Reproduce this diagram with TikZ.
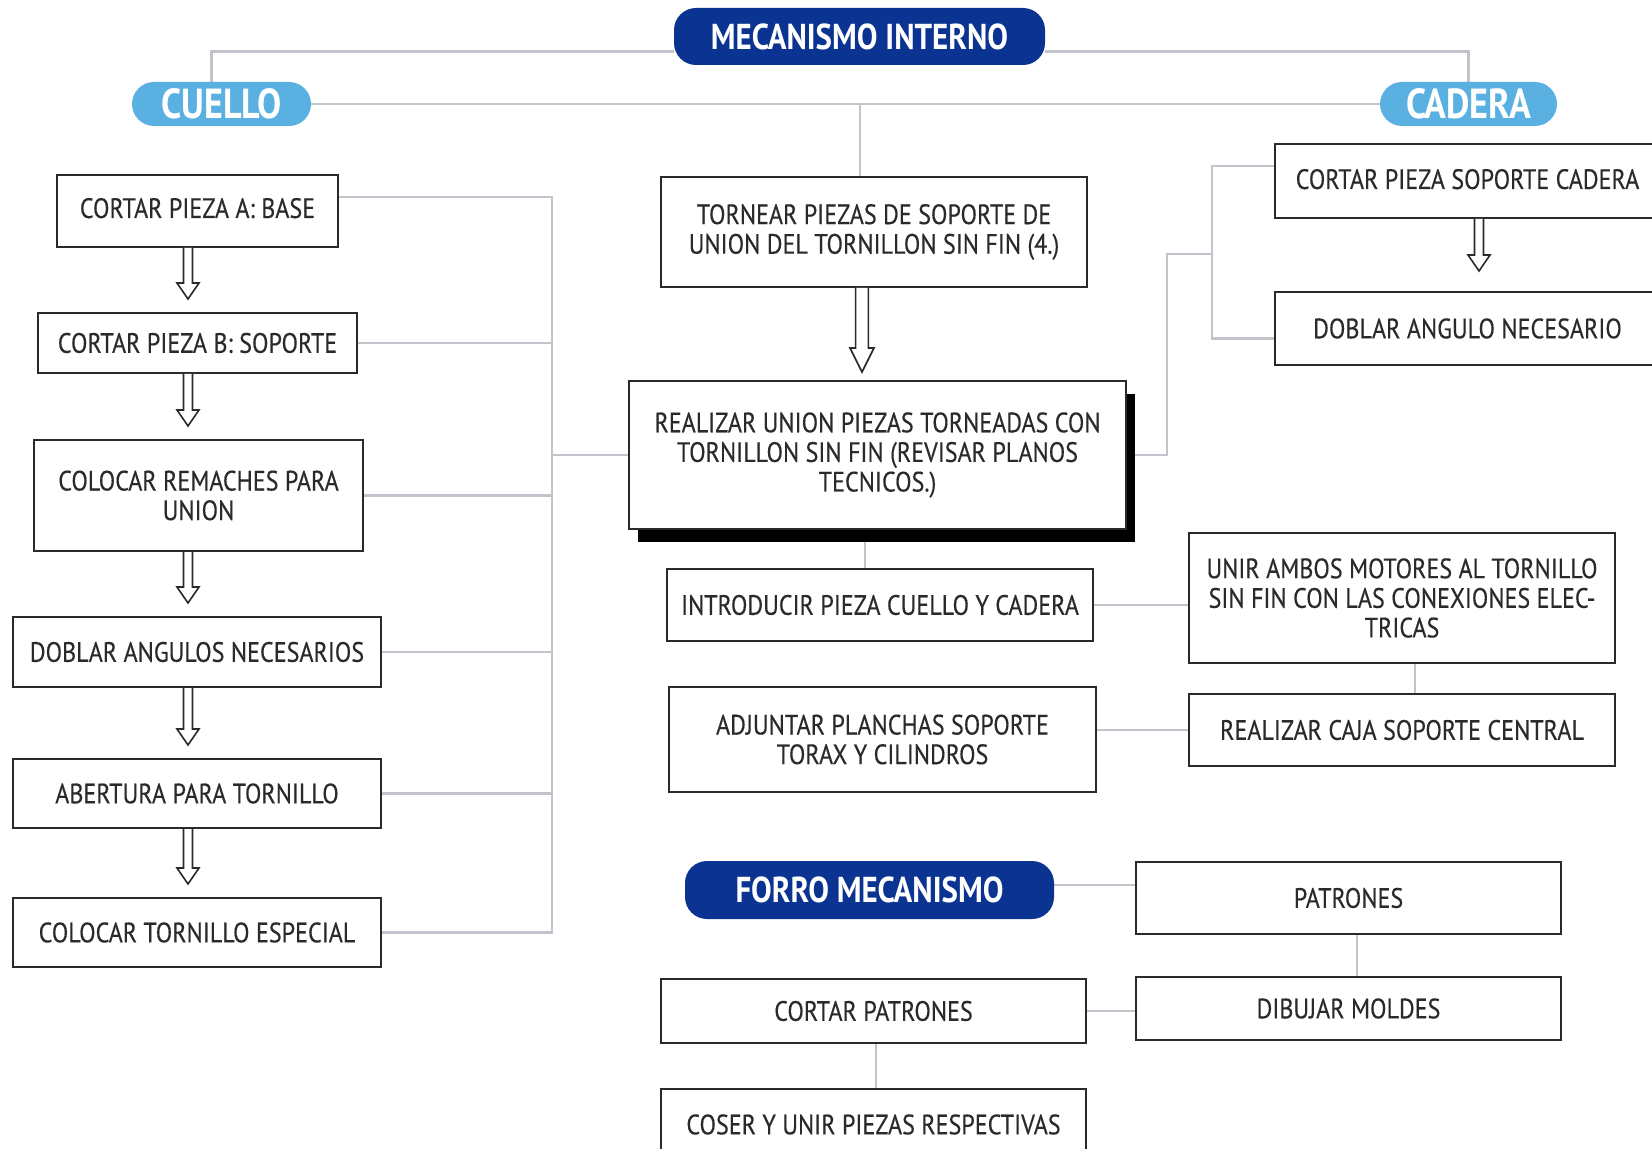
\documentclass[tikz,border=0pt]{standalone}
\usepackage{fontspec}
\setmainfont{PT Sans}[FakeStretch=0.86]
\newfontfamily\boxfont{PT Sans}[FakeStretch=0.86, FakeBold=0.3]
\usetikzlibrary{calc,shadows}
\pgfdeclarelayer{background}
\pgfsetlayers{background,main}
\definecolor{navy}{HTML}{0B3391}
\definecolor{sky}{HTML}{5BB0E2}
\definecolor{linkgray}{HTML}{C3C3CB}
\definecolor{ink}{HTML}{2A2A2A}
% box given by its corners (pixel grid, y downwards)
\newcommand\boxat[7]{\node[#1, minimum width={(#5-#3)*0.5pt}, minimum height={(#6-#4)*0.5pt}] (#2) at ({(#3+#5)/2},{(#4+#6)/2}) {#7};}
% hollow block arrow: from, to, x, shaft half width, head half width, head length, gap
\newcommand\harrow[7]{%
  \draw[hollow] let \p1=(#1.south), \p2=(#2.north), \p3=(#3,0) in
    (\x3-#4,\y1) -- (\x3-#4,\y2+#7+#6) -- (\x3-#5,\y2+#7+#6) -- (\x3,\y2+#7)
    -- (\x3+#5,\y2+#7+#6) -- (\x3+#4,\y2+#7+#6) -- (\x3+#4,\y1);}
\begin{document}
\begin{tikzpicture}[x=0.5pt,y=-0.5pt,
  box/.style={draw=ink, line width=1pt, fill=white, inner sep=0pt, align=center,
    text=ink, font=\boxfont\fontsize{14}{14.8}\selectfont},
  bigbox/.style={box, drop shadow={shadow xshift=4.5pt, shadow yshift=-6.5pt, fill=black, opacity=1}},
  link/.style={draw=linkgray, line width=1.3pt},
  hollow/.style={draw=ink, line width=0.8pt, fill=white, line join=miter},
  darkpill/.style={fill=navy, rounded corners=11pt, text=white, inner sep=0pt,
    font=\bfseries\fontsize{18}{18}\selectfont},
  lightpill/.style={fill=sky, rounded corners=11pt, text=white, inner sep=0pt,
    font=\bfseries\fontsize{21}{21}\selectfont},
]
\useasboundingbox (0,0) rectangle (1652,1149);
\clip (0,0) rectangle (1652,1149);

% headings
\boxat{darkpill}{mi}{674}{8}{1045}{65}{MECANISMO INTERNO}
\boxat{lightpill}{cu}{132}{82}{311}{126}{CUELLO}
\boxat{lightpill}{ca}{1380}{82}{1557}{126}{CADERA}
\boxat{darkpill}{fo}{685}{861}{1054}{919}{FORRO MECANISMO}

% neck column
\boxat{box}{a1}{57}{175}{338}{247}{\raisebox{3pt}{CORTAR PIEZA A: BASE}}
\boxat{box}{a2}{38}{313}{357}{373}{CORTAR PIEZA B: SOPORTE}
\boxat{box}{a3}{34}{440}{363}{551}{COLOCAR REMACHES PARA\\UNION}
\boxat{box}{a4}{13}{617}{381}{687}{DOBLAR ANGULOS NECESARIOS}
\boxat{box}{a5}{13}{759}{381}{828}{ABERTURA PARA TORNILLO}
\boxat{box}{a6}{13}{898}{381}{967}{COLOCAR TORNILLO ESPECIAL}

% centre column
\boxat{box}{tor}{661}{177}{1087}{287}{TORNEAR PIEZAS DE SOPORTE DE\\UNION DEL TORNILLON SIN FIN (4.)}
\boxat{bigbox}{re}{629}{381}{1126}{529}{REALIZAR UNION PIEZAS TORNEADAS CON\\TORNILLON SIN FIN (REVISAR PLANOS\\TECNICOS.)}
\boxat{box}{in}{667}{569}{1093}{641}{INTRODUCIR PIEZA CUELLO Y CADERA}
\boxat{box}{ad}{669}{687}{1096}{792}{ADJUNTAR PLANCHAS SOPORTE\\TORAX Y CILINDROS}

% hip column
\boxat{box}{cs}{1275}{144}{1660}{218}{\raisebox{2pt}{CORTAR PIEZA SOPORTE CADERA}}
\boxat{box}{dn}{1275}{292}{1660}{365}{DOBLAR ANGULO NECESARIO}
\boxat{box}{un}{1189}{533}{1615}{663}{UNIR AMBOS MOTORES AL TORNILLO\\SIN FIN CON LAS CONEXIONES ELEC-\\TRICAS}
\boxat{box}{cj}{1189}{694}{1615}{766}{REALIZAR CAJA SOPORTE CENTRAL}

% cover
\boxat{box}{pa}{1136}{862}{1561}{934}{PATRONES}
\boxat{box}{di}{1136}{977}{1561}{1040}{DIBUJAR MOLDES}
\boxat{box}{cp}{661}{979}{1086}{1043}{CORTAR PATRONES}
\boxat{box}{co}{661}{1089}{1086}{1160}{COSER Y UNIR PIEZAS RESPECTIVAS}

% junction columns
\coordinate (jl) at (552,0);
\coordinate (jm) at (860,104);
\coordinate (jr) at (1212,0);
\coordinate (jq) at (1167,0);
\coordinate (jre) at (865,0);
\coordinate (jun) at (1415,0);
\coordinate (jpa) at (1357,0);
\coordinate (jcp) at (876,0);

\begin{pgfonlayer}{background}
  \draw[link] ($(mi.west)+(0,15)$) -| ($(cu.north)+(-10,0)$);
  \draw[link] ($(mi.east)+(0,15)$) -| (ca.north);
  \draw[link] (cu.east) -- (ca.west);
  \draw[link] (jm) -- (jm |- tor.north);
  % neck bus
  \draw[link] ($(a1.east)+(0,-14)$) -| (a6.east -| jl) -- (a6.east);
  \foreach \n in {a2,a3,a4,a5} \draw[link] (\n.east) -- (\n.east -| jl);
  \draw[link] (re.west) -- (re.west -| jl);
  % hip bus
  \draw[link] ($(cs.west)+(0,-15)$) -| ($(dn.west -| jr)+(0,10)$) -- ($(dn.west)+(0,10)$);
  \draw[link] (re.east) -| ($(jq)+(0,254)$) -- ($(jr)+(0,254)$);
  % assembly
  \draw[link] (re.south -| jre) -- (in.north -| jre);
  \draw[link] (in.east) -- (in.east -| un.west);
  \draw[link] (un.south -| jun) -- (cj.north -| jun);
  \draw[link] (cj.west) -- (cj.west -| ad.east);
  % cover
  \draw[link] ($(fo.east)+(0,-5)$) -- ($(fo.east -| pa.west)+(0,-5)$);
  \draw[link] (pa.south -| jpa) -- (di.north -| jpa);
  \draw[link] (cp.east) -- (cp.east -| di.west);
  \draw[link] (cp.south -| jcp) -- (co.north -| jcp);
\end{pgfonlayer}

% block arrows
\harrow{a1}{a2}{188}{2.25pt}{5.5pt}{8pt}{6.5pt}
\harrow{a2}{a3}{188}{2.25pt}{5.5pt}{8pt}{6.5pt}
\harrow{a3}{a4}{188}{2.25pt}{5.5pt}{8pt}{6.5pt}
\harrow{a4}{a5}{188}{2.25pt}{5.5pt}{8pt}{6.5pt}
\harrow{a5}{a6}{188}{2.25pt}{5.5pt}{8pt}{6.5pt}
\harrow{tor}{re}{862}{3.2pt}{6pt}{12pt}{4pt}
\harrow{cs}{dn}{1479}{2.25pt}{5.5pt}{8pt}{10pt}
\end{tikzpicture}
\end{document}
